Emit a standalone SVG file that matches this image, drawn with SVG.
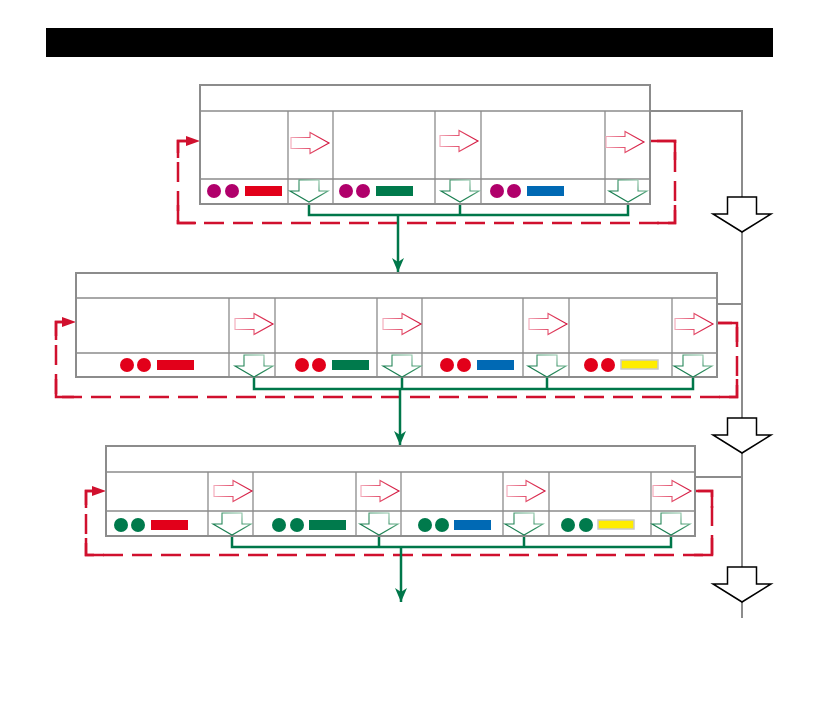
<svg xmlns="http://www.w3.org/2000/svg" xmlns:xlink="http://www.w3.org/1999/xlink" width="839" height="709" viewBox="0 0 839 709">
<style>
.frame{fill:#fff;stroke:#8c8c8c;stroke-width:2}
.grid{fill:none;stroke:#8c8c8c;stroke-width:1.3}
.rarr{fill:#fff;stroke:url(#gRed);stroke-width:1.1}
.darr{fill:#fff;stroke:url(#gGreen);stroke-width:1.1}
.bus{fill:none;stroke:#00774a;stroke-width:2.5}
.loop{fill:none;stroke:#d0102e;stroke-width:2.5;stroke-dasharray:20 9}
.corner{fill:none;stroke:#d0102e;stroke-width:2.5}
.sys{fill:none;stroke:#8c8c8c;stroke-width:2}
.big{fill:#fff;stroke:#000;stroke-width:1.5}
.dp{fill:#b0006b}.dr{fill:#e2001a}.dg{fill:#007a4c}
.br{fill:#e2001a}.bg{fill:#007a4c}.bb{fill:#0069b4}.by{fill:#ffed00;stroke:#c8c8c8;stroke-width:1.5}
</style>
<defs>
<linearGradient id="gRed" gradientUnits="objectBoundingBox" x1="0" y1="0" x2="1" y2="0">
<stop offset="0" stop-color="#f2a8b8"/><stop offset="0.6" stop-color="#e0405f"/><stop offset="1" stop-color="#d0103a"/></linearGradient>
<linearGradient id="gGreen" gradientUnits="objectBoundingBox" x1="0" y1="1" x2="1" y2="0">
<stop offset="0" stop-color="#0c7448"/><stop offset="0.55" stop-color="#2e8c5e"/><stop offset="1" stop-color="#b6dcc6"/></linearGradient>
<path id="ra" d="M0,-5.5 L19,-5.5 L19,-10.5 L38,0 L19,10.5 L19,5.5 L0,5.5 Z"/>
<path id="da" d="M-10,0 L10,0 L10,11 L19,11 L0,22 L-19,11 L-10,11 Z"/>
<path id="ba" d="M-14.5,0 L14.5,0 L14.5,17 L29,17 L0,35 L-29,17 L-14.5,17 Z"/>
<marker id="mg" viewBox="0 0 14 12" refX="14" refY="6" markerWidth="14" markerHeight="12" markerUnits="userSpaceOnUse" orient="auto">
<path d="M0,0 L14,6 L0,12 L4,6 Z" fill="#00774a"/></marker>
<marker id="mr" viewBox="0 0 14 10" refX="0" refY="5" markerWidth="14" markerHeight="10" markerUnits="userSpaceOnUse" orient="auto-start-reverse">
<path d="M0,0 L14,5 L0,10 Z" fill="#d0102e"/></marker>
</defs>
<rect x="0" y="0" width="839" height="709" fill="#fff"/>
<g id="title-bar"><rect x="46" y="28" width="727" height="29" fill="#000"/></g>

<g id="connectors">
<!-- system gray line and big arrows -->
<path class="sys" d="M650,111 H742 V197"/>
<path class="sys" d="M742,232 V418"/>
<path class="sys" d="M717,304 H742"/>
<path class="sys" d="M742,453 V567"/>
<path class="sys" d="M695,477 H742"/>
<path class="sys" d="M742,602 V618"/>
<use href="#ba" class="big" transform="translate(742,197)"/>
<use href="#ba" class="big" transform="translate(742,418)"/>
<use href="#ba" class="big" transform="translate(742,567)"/>
<!-- red dashed loops -->
<path class="loop" marker-start="url(#mr)" d="M186,141 H178 V223 H675 V141 H650"/>
<path class="corner" d="M650,141 H675 V160 M675,205 V223 H657 M196,223 H178 V205 M178,158 V141 H186"/>
<path class="loop" marker-start="url(#mr)" d="M62,322 H56 V397 H737 V323 H717"/>
<path class="corner" d="M717,323 H737 V342 M737,379 V397 H719 M74,397 H56 V379 M56,340 V322 H62"/>
<path class="loop" marker-start="url(#mr)" d="M92,491 H86 V555 H712 V491 H695"/>
<path class="corner" d="M695,491 H712 V508 M712,538 V555 H694 M104,555 H86 V538 M86,508 V491 H92"/>
<!-- green buses -->
<path class="bus" d="M309,203 V215 H628 V203 M460,203 V215"/>
<path class="bus" marker-end="url(#mg)" d="M398,215 V272"/>
<path class="bus" d="M254,377 V389 H693 V377 M402,377 V389 M547,377 V389"/>
<path class="bus" marker-end="url(#mg)" d="M400,389 V445"/>
<path class="bus" d="M232,536 V547 H671 V536 M379,536 V547 M524,536 V547"/>
<path class="bus" marker-end="url(#mg)" d="M401,547 V602"/>
</g>

<g id="panel-1">
<rect class="frame" x="200" y="85" width="450" height="119"/>
<path class="grid" d="M200,111 H650 M200,179 H650 M288,111 V204 M333,111 V204 M435,111 V204 M481,111 V204 M605,111 V204"/>
<use href="#ra" class="rarr" transform="translate(291,143)"/>
<use href="#ra" class="rarr" transform="translate(440,141)"/>
<use href="#ra" class="rarr" transform="translate(606,142)"/>
<use href="#da" class="darr" transform="translate(309,180)"/>
<use href="#da" class="darr" transform="translate(460,180)"/>
<use href="#da" class="darr" transform="translate(628,180)"/>
<circle class="dp" cx="214" cy="191" r="7"/><circle class="dp" cx="232" cy="191" r="7"/><rect class="br" x="245" y="186" width="37" height="10"/>
<circle class="dp" cx="346" cy="191" r="7"/><circle class="dp" cx="363" cy="191" r="7"/><rect class="bg" x="376" y="186" width="37" height="10"/>
<circle class="dp" cx="497" cy="191" r="7"/><circle class="dp" cx="514" cy="191" r="7"/><rect class="bb" x="527" y="186" width="37" height="10"/>
</g>

<g id="panel-2">
<rect class="frame" x="76" y="273" width="641" height="104"/>
<path class="grid" d="M76,298 H717 M76,353 H717 M229,298 V377 M275,298 V377 M377,298 V377 M422,298 V377 M523,298 V377 M569,298 V377 M672,298 V377"/>
<use href="#ra" class="rarr" transform="translate(235,324)"/>
<use href="#ra" class="rarr" transform="translate(383,324)"/>
<use href="#ra" class="rarr" transform="translate(529,324)"/>
<use href="#ra" class="rarr" transform="translate(675,324)"/>
<use href="#da" class="darr" transform="translate(254,355)"/>
<use href="#da" class="darr" transform="translate(402,355)"/>
<use href="#da" class="darr" transform="translate(547,355)"/>
<use href="#da" class="darr" transform="translate(693,355)"/>
<circle class="dr" cx="127" cy="365" r="7"/><circle class="dr" cx="144" cy="365" r="7"/><rect class="br" x="157" y="360" width="37" height="10"/>
<circle class="dr" cx="302" cy="365" r="7"/><circle class="dr" cx="319" cy="365" r="7"/><rect class="bg" x="332" y="360" width="37" height="10"/>
<circle class="dr" cx="447" cy="365" r="7"/><circle class="dr" cx="464" cy="365" r="7"/><rect class="bb" x="477" y="360" width="37" height="10"/>
<circle class="dr" cx="591" cy="365" r="7"/><circle class="dr" cx="608" cy="365" r="7"/><rect class="by" x="621" y="360" width="37" height="9"/>
</g>

<g id="panel-3">
<rect class="frame" x="106" y="446" width="589" height="90"/>
<path class="grid" d="M106,472 H695 M106,511 H695 M208,472 V536 M253,472 V536 M356,472 V536 M401,472 V536 M503,472 V536 M549,472 V536 M651,472 V536"/>
<use href="#ra" class="rarr" transform="translate(214,491)"/>
<use href="#ra" class="rarr" transform="translate(361,491)"/>
<use href="#ra" class="rarr" transform="translate(507,491)"/>
<use href="#ra" class="rarr" transform="translate(653,491)"/>
<use href="#da" class="darr" transform="translate(232,513)"/>
<use href="#da" class="darr" transform="translate(379,513)"/>
<use href="#da" class="darr" transform="translate(524,513)"/>
<use href="#da" class="darr" transform="translate(671,513)"/>
<circle class="dg" cx="121" cy="525" r="7"/><circle class="dg" cx="138" cy="525" r="7"/><rect class="br" x="151" y="520" width="37" height="10"/>
<circle class="dg" cx="279" cy="525" r="7"/><circle class="dg" cx="297" cy="525" r="7"/><rect class="bg" x="309" y="520" width="37" height="10"/>
<circle class="dg" cx="425" cy="525" r="7"/><circle class="dg" cx="442" cy="525" r="7"/><rect class="bb" x="454" y="520" width="37" height="10"/>
<circle class="dg" cx="568" cy="525" r="7"/><circle class="dg" cx="586" cy="525" r="7"/><rect class="by" x="598" y="520" width="36" height="9"/>
</g>
</svg>
